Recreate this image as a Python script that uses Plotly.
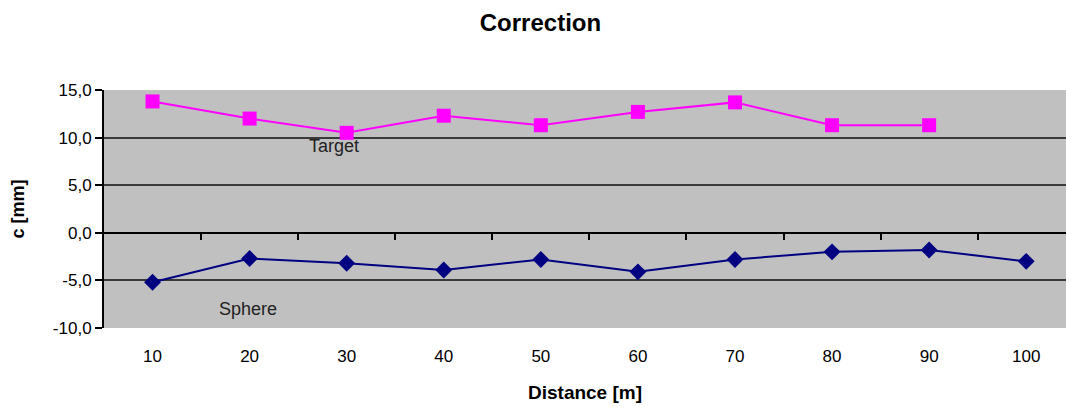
import plotly.graph_objects as go

categories = ["10", "20", "30", "40", "50", "60", "70", "80", "90", "100"]
target = [13.8, 12.0, 10.5, 12.3, 11.3, 12.7, 13.7, 11.3, 11.3, None]
sphere = [-5.2, -2.7, -3.2, -3.9, -2.8, -4.1, -2.8, -2.0, -1.8, -3.0]
y_ticks = [-10, -5, 0, 5, 10, 15]

pos = list(range(1, len(categories) + 1))
y_ticktext = [f"{v:.1f}".replace(".", ",") for v in y_ticks]
font = "Liberation Sans, Arial, sans-serif"

fig = go.Figure()
fig.add_trace(go.Scatter(x=pos, y=target, mode="lines+markers", name="Target",
                         line=dict(color="#FF00FF", width=2),
                         marker=dict(symbol="square", size=14, color="#FF00FF")))
fig.add_trace(go.Scatter(x=pos, y=sphere, mode="lines+markers", name="Sphere",
                         line=dict(color="#000080", width=2),
                         marker=dict(symbol="diamond", size=13, color="#000080")))

# series labels
fig.add_annotation(x=2.87, y=10.4, text="Target", showarrow=False, yanchor="top",
                   font=dict(family=font, size=18, color="#222"))
fig.add_annotation(x=1.98, y=-6.7, text="Sphere", showarrow=False, yanchor="top",
                   font=dict(family=font, size=18, color="#222"))

fig.update_layout(
    width=1066, height=407,
    margin=dict(l=104, r=0, t=90, b=79),
    paper_bgcolor="white",
    plot_bgcolor="#C0C0C0",
    showlegend=False,
    title=dict(text="<b>Correction</b>", x=0.507, xanchor="center", y=0.945, yanchor="middle",
               font=dict(family=font, size=24, color="black")),
    xaxis=dict(range=[0.5, 10.41], tickvals=pos, ticktext=categories, showgrid=False,
               zeroline=False, showline=False, ticks="", ticklabelstandoff=16,
               tickfont=dict(family=font, size=17, color="black"),
               title=dict(text="<b>Distance [m]</b>", standoff=20,
                          font=dict(family=font, size=19, color="black"))),
    xaxis2=dict(overlaying="x", matches="x", anchor="free", position=0.4,
                range=[0.5, 10.41], tickvals=[p + 0.5 for p in pos], showticklabels=False,
                ticks="outside", ticklen=6, tickcolor="black", tickwidth=2,
                showline=True, linecolor="black", linewidth=2, showgrid=False,
                zeroline=False),
    yaxis=dict(range=[-10, 15], tickvals=y_ticks, ticktext=y_ticktext,
               showgrid=True, gridcolor="#3a3a3a", gridwidth=1.5,
               zeroline=False, showline=True, linecolor="black", linewidth=2,
               ticks="outside", ticklen=7, tickcolor="black", tickwidth=2,
               tickfont=dict(family=font, size=17, color="black"),
               title=dict(text="<b>c [mm]</b>", standoff=24,
                          font=dict(family=font, size=18, color="black"))),
)
# empty trace on xaxis2 so the overlay axis renders
fig.add_trace(go.Scatter(x=[None], y=[None], xaxis="x2", showlegend=False, hoverinfo="skip"))

fig.write_html("out.html")
